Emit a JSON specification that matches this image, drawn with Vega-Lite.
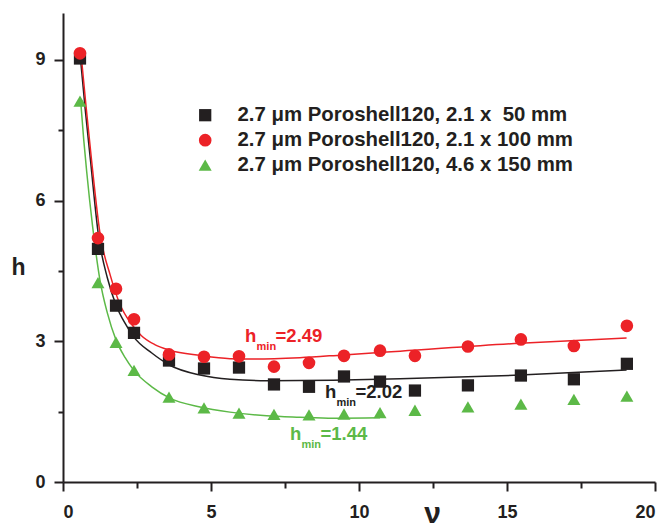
{
  "$schema": "https://vega.github.io/schema/vega-lite/v6.json",
  "width": 592,
  "height": 469,
  "autosize": {"type": "none"},
  "padding": {"left": 63, "top": 13, "right": 10, "bottom": 41},
  "background": "white",
  "datasets": {
    "measured": [
      {"series": "2.7 μm Poroshell120, 2.1 x\u00a0 50 mm", "nu": 0.574, "h": 9.03},
      {"series": "2.7 μm Poroshell120, 2.1 x\u00a0 50 mm", "nu": 1.182, "h": 4.97},
      {"series": "2.7 μm Poroshell120, 2.1 x\u00a0 50 mm", "nu": 1.791, "h": 3.76},
      {"series": "2.7 μm Poroshell120, 2.1 x\u00a0 50 mm", "nu": 2.399, "h": 3.18},
      {"series": "2.7 μm Poroshell120, 2.1 x\u00a0 50 mm", "nu": 3.581, "h": 2.59},
      {"series": "2.7 μm Poroshell120, 2.1 x\u00a0 50 mm", "nu": 4.764, "h": 2.42},
      {"series": "2.7 μm Poroshell120, 2.1 x\u00a0 50 mm", "nu": 5.946, "h": 2.44},
      {"series": "2.7 μm Poroshell120, 2.1 x\u00a0 50 mm", "nu": 7.128, "h": 2.08},
      {"series": "2.7 μm Poroshell120, 2.1 x\u00a0 50 mm", "nu": 8.311, "h": 2.03},
      {"series": "2.7 μm Poroshell120, 2.1 x\u00a0 50 mm", "nu": 9.493, "h": 2.25},
      {"series": "2.7 μm Poroshell120, 2.1 x\u00a0 50 mm", "nu": 10.71, "h": 2.14},
      {"series": "2.7 μm Poroshell120, 2.1 x\u00a0 50 mm", "nu": 11.89, "h": 1.95},
      {"series": "2.7 μm Poroshell120, 2.1 x\u00a0 50 mm", "nu": 13.68, "h": 2.06},
      {"series": "2.7 μm Poroshell120, 2.1 x\u00a0 50 mm", "nu": 15.47, "h": 2.27},
      {"series": "2.7 μm Poroshell120, 2.1 x\u00a0 50 mm", "nu": 17.26, "h": 2.19},
      {"series": "2.7 μm Poroshell120, 2.1 x\u00a0 50 mm", "nu": 19.05, "h": 2.52},
      {"series": "2.7 μm Poroshell120, 2.1 x 100 mm", "nu": 0.574, "h": 9.14},
      {"series": "2.7 μm Poroshell120, 2.1 x 100 mm", "nu": 1.182, "h": 5.2},
      {"series": "2.7 μm Poroshell120, 2.1 x 100 mm", "nu": 1.791, "h": 4.12},
      {"series": "2.7 μm Poroshell120, 2.1 x 100 mm", "nu": 2.399, "h": 3.47},
      {"series": "2.7 μm Poroshell120, 2.1 x 100 mm", "nu": 3.581, "h": 2.72},
      {"series": "2.7 μm Poroshell120, 2.1 x 100 mm", "nu": 4.764, "h": 2.67},
      {"series": "2.7 μm Poroshell120, 2.1 x 100 mm", "nu": 5.946, "h": 2.68},
      {"series": "2.7 μm Poroshell120, 2.1 x 100 mm", "nu": 7.128, "h": 2.46},
      {"series": "2.7 μm Poroshell120, 2.1 x 100 mm", "nu": 8.311, "h": 2.54},
      {"series": "2.7 μm Poroshell120, 2.1 x 100 mm", "nu": 9.493, "h": 2.69},
      {"series": "2.7 μm Poroshell120, 2.1 x 100 mm", "nu": 10.71, "h": 2.8},
      {"series": "2.7 μm Poroshell120, 2.1 x 100 mm", "nu": 11.89, "h": 2.69},
      {"series": "2.7 μm Poroshell120, 2.1 x 100 mm", "nu": 13.68, "h": 2.89},
      {"series": "2.7 μm Poroshell120, 2.1 x 100 mm", "nu": 15.47, "h": 3.04},
      {"series": "2.7 μm Poroshell120, 2.1 x 100 mm", "nu": 17.26, "h": 2.9},
      {"series": "2.7 μm Poroshell120, 2.1 x 100 mm", "nu": 19.05, "h": 3.33},
      {"series": "2.7 μm Poroshell120, 4.6 x 150 mm", "nu": 0.574, "h": 8.12},
      {"series": "2.7 μm Poroshell120, 4.6 x 150 mm", "nu": 1.182, "h": 4.25},
      {"series": "2.7 μm Poroshell120, 4.6 x 150 mm", "nu": 1.791, "h": 2.98},
      {"series": "2.7 μm Poroshell120, 4.6 x 150 mm", "nu": 2.399, "h": 2.38},
      {"series": "2.7 μm Poroshell120, 4.6 x 150 mm", "nu": 3.581, "h": 1.81},
      {"series": "2.7 μm Poroshell120, 4.6 x 150 mm", "nu": 4.764, "h": 1.58},
      {"series": "2.7 μm Poroshell120, 4.6 x 150 mm", "nu": 5.946, "h": 1.47},
      {"series": "2.7 μm Poroshell120, 4.6 x 150 mm", "nu": 7.128, "h": 1.44},
      {"series": "2.7 μm Poroshell120, 4.6 x 150 mm", "nu": 8.311, "h": 1.43},
      {"series": "2.7 μm Poroshell120, 4.6 x 150 mm", "nu": 9.493, "h": 1.45},
      {"series": "2.7 μm Poroshell120, 4.6 x 150 mm", "nu": 10.71, "h": 1.48},
      {"series": "2.7 μm Poroshell120, 4.6 x 150 mm", "nu": 11.89, "h": 1.53},
      {"series": "2.7 μm Poroshell120, 4.6 x 150 mm", "nu": 13.68, "h": 1.6},
      {"series": "2.7 μm Poroshell120, 4.6 x 150 mm", "nu": 15.47, "h": 1.66},
      {"series": "2.7 μm Poroshell120, 4.6 x 150 mm", "nu": 17.26, "h": 1.76},
      {"series": "2.7 μm Poroshell120, 4.6 x 150 mm", "nu": 19.05, "h": 1.83}
    ],
    "fitted": [
      {"column": "2.1 x 50 mm", "nu": 0.59, "h": 9.03},
      {"column": "2.1 x 50 mm", "nu": 0.75, "h": 7.95},
      {"column": "2.1 x 50 mm", "nu": 0.93, "h": 6.85},
      {"column": "2.1 x 50 mm", "nu": 1.2, "h": 5.25},
      {"column": "2.1 x 50 mm", "nu": 1.5, "h": 4.35},
      {"column": "2.1 x 50 mm", "nu": 1.8, "h": 3.76},
      {"column": "2.1 x 50 mm", "nu": 2.1, "h": 3.38},
      {"column": "2.1 x 50 mm", "nu": 2.38, "h": 3.1},
      {"column": "2.1 x 50 mm", "nu": 3.0, "h": 2.75},
      {"column": "2.1 x 50 mm", "nu": 3.61, "h": 2.49},
      {"column": "2.1 x 50 mm", "nu": 4.63, "h": 2.28},
      {"column": "2.1 x 50 mm", "nu": 5.64, "h": 2.19},
      {"column": "2.1 x 50 mm", "nu": 6.88, "h": 2.16},
      {"column": "2.1 x 50 mm", "nu": 9.13, "h": 2.17},
      {"column": "2.1 x 50 mm", "nu": 11.39, "h": 2.2},
      {"column": "2.1 x 50 mm", "nu": 15.44, "h": 2.28},
      {"column": "2.1 x 50 mm", "nu": 19.04, "h": 2.39},
      {"column": "2.1 x 100 mm", "nu": 0.61, "h": 9.12},
      {"column": "2.1 x 100 mm", "nu": 0.78, "h": 8.0},
      {"column": "2.1 x 100 mm", "nu": 0.95, "h": 6.95},
      {"column": "2.1 x 100 mm", "nu": 1.25, "h": 5.3},
      {"column": "2.1 x 100 mm", "nu": 1.6, "h": 4.4},
      {"column": "2.1 x 100 mm", "nu": 1.93, "h": 3.78},
      {"column": "2.1 x 100 mm", "nu": 2.3, "h": 3.38},
      {"column": "2.1 x 100 mm", "nu": 2.65, "h": 3.12},
      {"column": "2.1 x 100 mm", "nu": 3.1, "h": 2.93},
      {"column": "2.1 x 100 mm", "nu": 3.61, "h": 2.81},
      {"column": "2.1 x 100 mm", "nu": 4.63, "h": 2.7},
      {"column": "2.1 x 100 mm", "nu": 5.64, "h": 2.63},
      {"column": "2.1 x 100 mm", "nu": 6.5, "h": 2.62},
      {"column": "2.1 x 100 mm", "nu": 8.0, "h": 2.65},
      {"column": "2.1 x 100 mm", "nu": 9.47, "h": 2.71},
      {"column": "2.1 x 100 mm", "nu": 11.39, "h": 2.79},
      {"column": "2.1 x 100 mm", "nu": 15.44, "h": 2.96},
      {"column": "2.1 x 100 mm", "nu": 19.04, "h": 3.07},
      {"column": "4.6 x 150 mm", "nu": 0.6, "h": 8.1},
      {"column": "4.6 x 150 mm", "nu": 0.7, "h": 7.3},
      {"column": "4.6 x 150 mm", "nu": 0.8, "h": 6.62},
      {"column": "4.6 x 150 mm", "nu": 1.0, "h": 5.45},
      {"column": "4.6 x 150 mm", "nu": 1.25, "h": 4.3},
      {"column": "4.6 x 150 mm", "nu": 1.5, "h": 3.6},
      {"column": "4.6 x 150 mm", "nu": 1.79, "h": 3.03},
      {"column": "4.6 x 150 mm", "nu": 2.1, "h": 2.65},
      {"column": "4.6 x 150 mm", "nu": 2.38, "h": 2.39},
      {"column": "4.6 x 150 mm", "nu": 3.0, "h": 2.03},
      {"column": "4.6 x 150 mm", "nu": 3.61, "h": 1.79},
      {"column": "4.6 x 150 mm", "nu": 4.63, "h": 1.6},
      {"column": "4.6 x 150 mm", "nu": 5.64, "h": 1.49},
      {"column": "4.6 x 150 mm", "nu": 6.88, "h": 1.41},
      {"column": "4.6 x 150 mm", "nu": 8.0, "h": 1.38},
      {"column": "4.6 x 150 mm", "nu": 9.13, "h": 1.36},
      {"column": "4.6 x 150 mm", "nu": 10.71, "h": 1.37}
    ],
    "minima": [
      {"column": "2.1 x 100 mm", "nu": 6.15, "h": 2.985, "value": "=2.49"},
      {"column": "2.1 x 50 mm", "nu": 8.85, "h": 1.79, "value": "=2.02"},
      {"column": "4.6 x 150 mm", "nu": 7.67, "h": 0.895, "value": "=1.44"}
    ]
  },
  "encoding": {
    "x": {
      "field": "nu",
      "type": "quantitative",
      "scale": {"domain": [0, 20], "nice": false, "zero": false},
      "axis": {
        "title": "ν",
        "values": [0, 2.5, 5, 7.5, 10, 12.5, 15, 17.5, 20],
        "format": ".0f",
        "labelExpr": "datum.value % 5 === 0 ? datum.label : ''",
        "tickSize": {"condition": {"test": "datum.value % 5 === 0", "value": 9}, "value": 6},
        "labelPadding": 12,
        "titleFontSize": 30,
        "titleX": 369,
        "titleY": 40,
        "titleAlign": "center",
        "titleBaseline": "alphabetic"
      }
    },
    "y": {
      "field": "h",
      "type": "quantitative",
      "scale": {"domain": [0, 10], "nice": false},
      "axis": {
        "title": "h",
        "values": [0, 1.5, 3, 4.5, 6, 7.5, 9],
        "format": ".0f",
        "labelExpr": "datum.value % 3 === 0 ? datum.label : ''",
        "tickSize": {"condition": {"test": "datum.value % 3 === 0", "value": 9}, "value": 5},
        "labelPadding": 9,
        "titleFontSize": 23,
        "titleAngle": 0,
        "titleX": -45,
        "titleY": 261,
        "titleAlign": "center",
        "titleBaseline": "alphabetic"
      }
    }
  },
  "layer": [
    {
      "data": {"name": "fitted"},
      "mark": {"type": "line", "interpolate": "monotone", "strokeWidth": 1.5},
      "encoding": {
        "stroke": {
          "field": "column",
          "type": "nominal",
          "scale": {
            "domain": ["2.1 x 50 mm", "2.1 x 100 mm", "4.6 x 150 mm"],
            "range": ["#231f20", "#ec2227", "#5cb947"]
          },
          "legend": null
        }
      }
    },
    {
      "data": {"name": "measured"},
      "mark": {"type": "point", "filled": true, "opacity": 1},
      "encoding": {
        "color": {
          "field": "series",
          "type": "nominal",
          "title": null,
          "scale": {
            "domain": ["2.7 μm Poroshell120, 2.1 x\u00a0 50 mm", "2.7 μm Poroshell120, 2.1 x 100 mm", "2.7 μm Poroshell120, 4.6 x 150 mm"],
            "range": ["#231f20", "#ec2227", "#5cb947"]
          },
          "legend": {
            "orient": "none",
            "legendX": 132,
            "legendY": 92,
            "padding": 0,
            "labelFontSize": 20.4,
            "labelFontWeight": "bold",
            "labelColor": "#231f20",
            "labelOffset": 22,
            "labelLimit": 600,
            "rowPadding": 4,
            "symbolStrokeWidth": 0
          }
        },
        "shape": {
          "field": "series",
          "type": "nominal",
          "title": null,
          "scale": {
            "domain": ["2.7 μm Poroshell120, 2.1 x\u00a0 50 mm", "2.7 μm Poroshell120, 2.1 x 100 mm", "2.7 μm Poroshell120, 4.6 x 150 mm"],
            "range": ["square", "circle", "triangle-up"]
          }
        },
        "size": {
          "field": "series",
          "type": "nominal",
          "title": null,
          "scale": {
            "domain": ["2.7 μm Poroshell120, 2.1 x\u00a0 50 mm", "2.7 μm Poroshell120, 2.1 x 100 mm", "2.7 μm Poroshell120, 4.6 x 150 mm"],
            "range": [150, 170, 270]
          }
        }
      }
    },
    {
      "data": {"name": "minima"},
      "mark": {"type": "text", "align": "left", "baseline": "alphabetic", "fontWeight": "bold", "fontSize": 18.5},
      "encoding": {
        "text": {"value": "h"},
        "fill": {
          "field": "column",
          "type": "nominal",
          "scale": {
            "domain": ["2.1 x 50 mm", "2.1 x 100 mm", "4.6 x 150 mm"],
            "range": ["#231f20", "#ec2227", "#5cb947"]
          },
          "legend": null
        }
      }
    },
    {
      "data": {"name": "minima"},
      "mark": {"type": "text", "align": "left", "baseline": "alphabetic", "fontWeight": "bold", "fontSize": 11, "dx": 11.5, "dy": 8},
      "encoding": {
        "text": {"value": "min"},
        "fill": {"field": "column", "type": "nominal", "legend": null}
      }
    },
    {
      "data": {"name": "minima"},
      "mark": {"type": "text", "align": "left", "baseline": "alphabetic", "fontWeight": "bold", "fontSize": 18.5, "dx": 30.5},
      "encoding": {
        "text": {"field": "value"},
        "fill": {"field": "column", "type": "nominal", "legend": null}
      }
    }
  ],
  "config": {
    "view": {"stroke": null},
    "font": "Liberation Sans",
    "text": {"font": "Liberation Sans"},
    "axis": {
      "grid": false,
      "domainColor": "#231f20",
      "domainWidth": 2,
      "tickColor": "#231f20",
      "tickWidth": 2,
      "labelFont": "Liberation Sans",
      "labelFontSize": 18,
      "labelFontWeight": "bold",
      "labelColor": "#231f20",
      "titleFont": "Liberation Sans",
      "titleFontWeight": "bold",
      "titleColor": "#231f20"
    },
    "legend": {
      "labelFont": "Liberation Sans"
    }
  }
}
